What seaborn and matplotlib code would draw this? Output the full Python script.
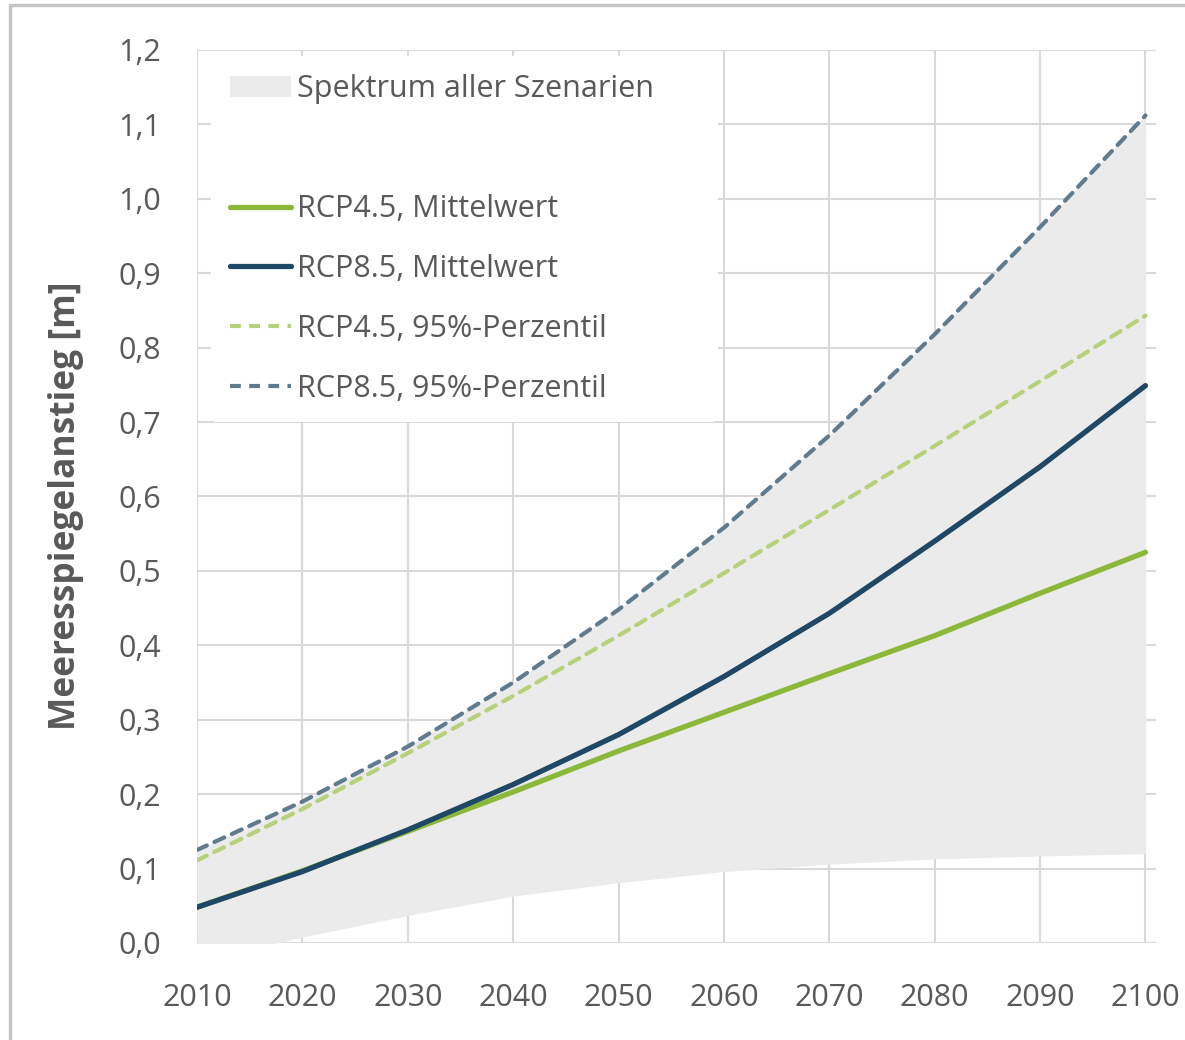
import numpy as np
import pandas as pd
import matplotlib
matplotlib.use("Agg")
import matplotlib.pyplot as plt
from matplotlib.lines import Line2D
from matplotlib.patches import Patch, Rectangle
import seaborn as sns

# ---- data ----
years = [2010, 2020, 2030, 2040, 2050, 2060, 2070, 2080, 2090, 2100]
rcp45_mean = [0.048, 0.097, 0.150, 0.203, 0.258, 0.310, 0.362, 0.413, 0.470, 0.525]
rcp85_mean = [0.048, 0.096, 0.152, 0.213, 0.280, 0.358, 0.443, 0.540, 0.640, 0.749]
rcp45_p95 = [0.111, 0.180, 0.255, 0.332, 0.413, 0.497, 0.582, 0.668, 0.755, 0.843]
rcp85_p95 = [0.125, 0.190, 0.264, 0.350, 0.448, 0.558, 0.682, 0.818, 0.962, 1.112]
band_low = [-0.025, 0.008, 0.037, 0.063, 0.081, 0.096, 0.106, 0.113, 0.117, 0.120]
band_high = rcp85_p95

y_ticks = [0.0, 0.1, 0.2, 0.3, 0.4, 0.5, 0.6, 0.7, 0.8, 0.9, 1.0, 1.1, 1.2]
y_ticklabels = ["0,0", "0,1", "0,2", "0,3", "0,4", "0,5", "0,6", "0,7", "0,8", "0,9", "1,0", "1,1", "1,2"]
x_ticks = years
x_ticklabels = [str(y) for y in years]

label_band = "Spektrum aller Szenarien"
label_45m = "RCP4.5, Mittelwert"
label_85m = "RCP8.5, Mittelwert"
label_45p = "RCP4.5, 95%-Perzentil"
label_85p = "RCP8.5, 95%-Perzentil"
y_label = "Meeresspiegelanstieg [m]"

# ---- styling ----
sns.set_theme(style="whitegrid")
plt.rcParams["font.family"] = ["Open Sans", "DejaVu Sans"]

c_45m = "#8cb83a"
c_85m = "#1e4866"
c_45p = "#b7d07a"
c_85p = "#617b8e"
c_band = "#ebebeb"
c_grid = "#d9d9d9"
c_text = "#595959"

W, H = 1185, 1040
fig = plt.figure(figsize=(W / 100, H / 100), dpi=100)
fig.patch.set_facecolor("white")
ax = fig.add_axes([197 / W, 1 - 943 / H, (1156 - 197) / W, (943 - 50) / H])

df = pd.DataFrame({
    "Jahr": years,
    "rcp45_mean": rcp45_mean,
    "rcp85_mean": rcp85_mean,
    "rcp45_p95": rcp45_p95,
    "rcp85_p95": rcp85_p95,
    "low": band_low,
    "high": band_high,
})

ax.fill_between(df["Jahr"], df["low"], df["high"], color=c_band, lw=0, zorder=1)

sns.lineplot(data=df, x="Jahr", y="rcp85_p95", ax=ax, color=c_85p, lw=3.0, zorder=3)
sns.lineplot(data=df, x="Jahr", y="rcp45_p95", ax=ax, color=c_45p, lw=3.0, zorder=3)
sns.lineplot(data=df, x="Jahr", y="rcp45_mean", ax=ax, color=c_45m, lw=3.8,
             zorder=4, solid_capstyle="round", solid_joinstyle="round")
sns.lineplot(data=df, x="Jahr", y="rcp85_mean", ax=ax, color=c_85m, lw=3.8,
             zorder=5, solid_capstyle="round", solid_joinstyle="round")
for ln in ax.lines[:2]:
    ln.set_linestyle((0, (2.6, 2.0)))
    ln.set_dash_capstyle("round")

ax.set_xlim(2010, 2101)
ax.set_ylim(0, 1.2)
ax.set_xticks(x_ticks)
ax.set_xticklabels(x_ticklabels)
ax.set_yticks(y_ticks)
ax.set_yticklabels(y_ticklabels)
ax.tick_params(axis="both", length=0, labelsize=22, labelcolor=c_text)
ax.tick_params(axis="y", pad=26)
ax.tick_params(axis="x", pad=29)
ax.set_xlabel("")
ax.set_ylabel(y_label, fontsize=25.5, fontweight="bold", color=c_text)
ax.yaxis.set_label_coords(-0.137, 0.49)
ax.yaxis.label.set_va("center")
ax.grid(True, color=c_grid, lw=1.5)
ax.set_axisbelow(True)
ax.set_facecolor("white")
for s in ax.spines.values():
    s.set_visible(False)

handles = [
    Patch(facecolor=c_band, edgecolor="none"),
    Line2D([], [], color="none"),
    Line2D([], [], color=c_45m, lw=3.8, solid_capstyle="round"),
    Line2D([], [], color=c_85m, lw=3.8, solid_capstyle="round"),
    Line2D([], [], color=c_45p, lw=3.0, linestyle=(0, (2.6, 2.0))),
    Line2D([], [], color=c_85p, lw=3.0, linestyle=(0, (2.6, 2.0))),
]
labels = [label_band, " ", label_45m, label_85m, label_45p, label_85p]
leg = ax.legend(handles, labels, loc="upper left",
                bbox_to_anchor=(0.0148, 0.0, 0.5287, 0.9933),
                mode="expand", frameon=True, fontsize=22, handlelength=2.0,
                handletextpad=0.2, labelspacing=0.98, borderpad=0.6,
                borderaxespad=0.0, facecolor="white", edgecolor="none",
                framealpha=1.0)
for t in leg.get_texts():
    t.set_color(c_text)
leg.set_zorder(10)

# figure border (top and left visible in reference)
fig.patches.append(Rectangle((10 / W, -0.05), 1.2, (1 - 5 / H) + 0.05,
                             transform=fig.transFigure, fill=False,
                             edgecolor="#c4c4c4", lw=2.5, zorder=0))

fig.savefig("out.png", dpi=100, facecolor="white")
